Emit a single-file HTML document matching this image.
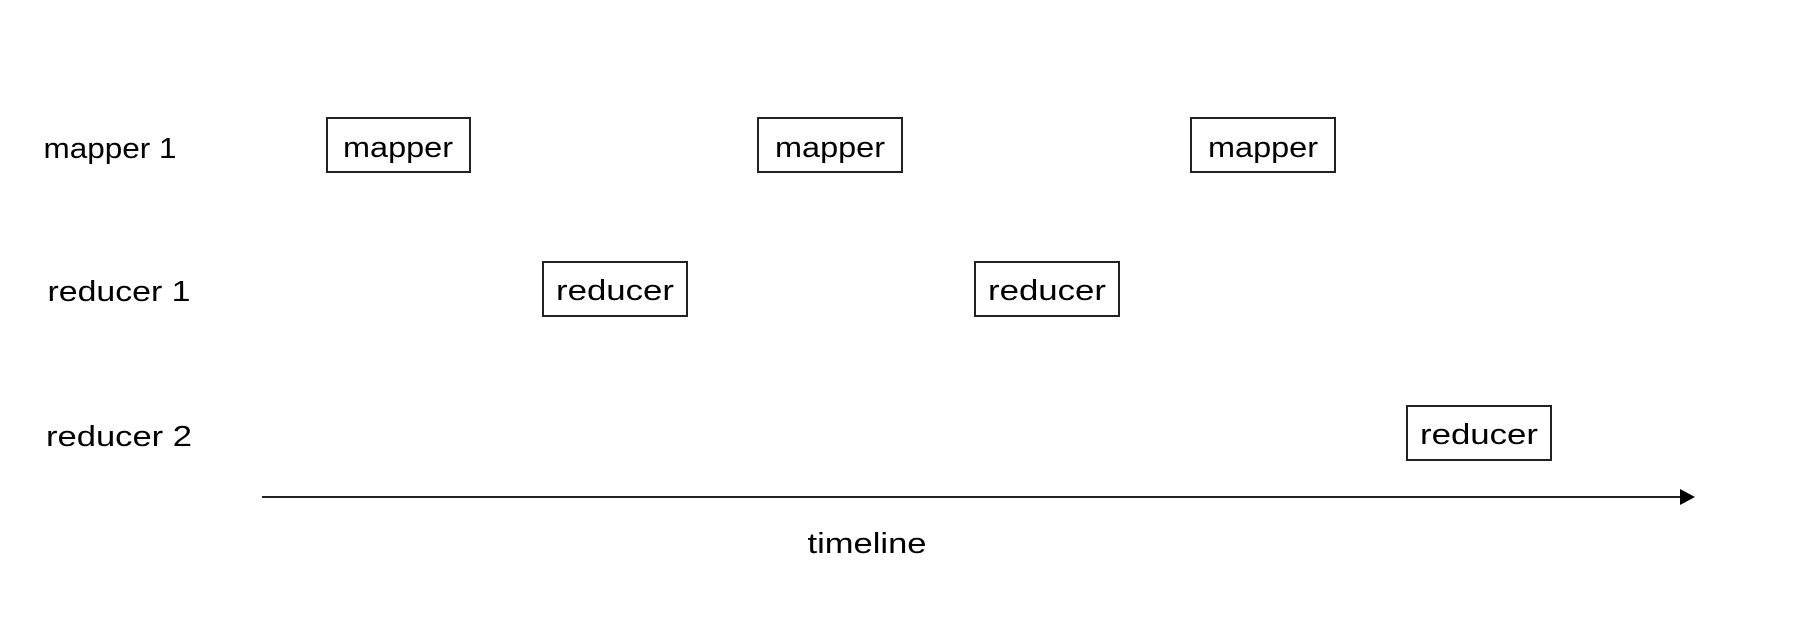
<!DOCTYPE html>
<html><head><meta charset="utf-8"><style>
body{margin:0;background:#fff;}
</style></head><body>
<svg width="1812" height="620" viewBox="0 0 1812 620" xmlns="http://www.w3.org/2000/svg" font-family="'Comic Sans MS','Liberation Sans',sans-serif" font-size="29" fill="#000">
<g fill="none" stroke="#222" stroke-width="2">
<rect x="327" y="118" width="143" height="54"/>
<rect x="758" y="118" width="144" height="54"/>
<rect x="1191" y="118" width="144" height="54"/>
<rect x="543" y="262" width="144" height="54"/>
<rect x="975" y="262" width="144" height="54"/>
<rect x="1407" y="406" width="144" height="54"/>
<line x1="262" y1="497" x2="1682" y2="497"/>
</g>
<polygon points="1680,489 1695,497 1680,505" fill="#000"/>
<g text-anchor="middle" dominant-baseline="central" lengthAdjust="spacingAndGlyphs">
<text x="398" y="148" textLength="110" lengthAdjust="spacingAndGlyphs">mapper</text>
<text x="830" y="148" textLength="110" lengthAdjust="spacingAndGlyphs">mapper</text>
<text x="1263" y="148" textLength="110" lengthAdjust="spacingAndGlyphs">mapper</text>
<text x="615" y="291" textLength="118" lengthAdjust="spacingAndGlyphs">reducer</text>
<text x="1047" y="291" textLength="118" lengthAdjust="spacingAndGlyphs">reducer</text>
<text x="1479" y="435" textLength="118" lengthAdjust="spacingAndGlyphs">reducer</text>
<text x="110" y="149" textLength="133" lengthAdjust="spacingAndGlyphs">mapper 1</text>
<text x="119" y="292" textLength="143" lengthAdjust="spacingAndGlyphs">reducer 1</text>
<text x="119" y="437" textLength="146" lengthAdjust="spacingAndGlyphs">reducer 2</text>
<text x="867" y="544" textLength="119" lengthAdjust="spacingAndGlyphs">timeline</text>
</g>
</svg>
</body></html>
